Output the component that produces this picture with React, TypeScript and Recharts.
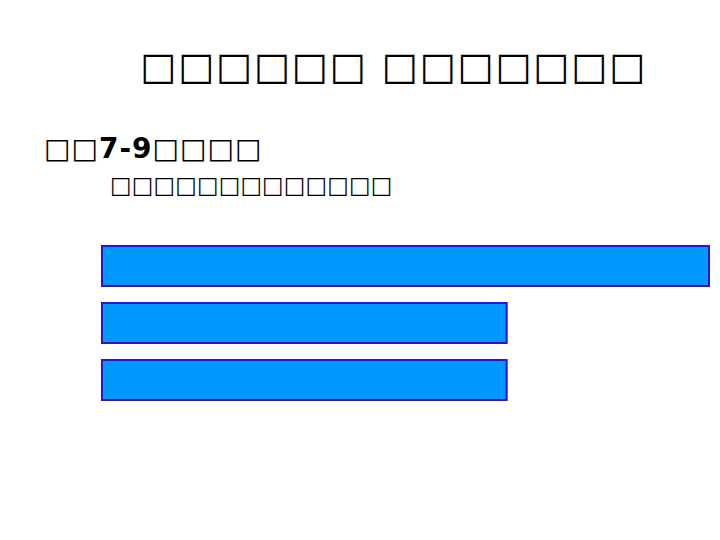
import { BarChart, Bar, XAxis, YAxis } from "recharts";

const categories = ["a", "b", "c"];
const values = [3, 2, 2];
const titleText = "□□□□□□ □□□□□□□";
const line2Before = "□□";
const line2Num = "7-9";
const line2After = "□□□□";
const line3Text = "□□□□□□□□□□□□□";

const data = categories.map((name, i) => ({ name, value: values[i] }));

export default function App() {
  return (
    <div style={{ position: "fixed", left: 0, top: 0, width: 720, height: 540, background: "#fff", fontFamily: "DejaVu Sans" }}>
      <div style={{ position: "absolute", left: 140, top: 44, fontSize: 38, letterSpacing: 2 }}>{titleText}</div>
      <div style={{ position: "absolute", left: 44, top: 132, fontSize: 28, letterSpacing: 1 }}>
        {line2Before}<b>{line2Num}</b>{line2After}
      </div>
      <div style={{ position: "absolute", left: 110, top: 172, fontSize: 23, letterSpacing: 0 }}>{line3Text}</div>
      <div style={{ position: "absolute", left: 0, top: 0 }}>
        <BarChart width={720} height={540} data={data} layout="vertical"
          margin={{ top: 237, bottom: 132, left: 102, right: 11 }}>
          <XAxis type="number" domain={[0, 3]} hide />
          <YAxis type="category" dataKey="name" hide />
          <Bar dataKey="value" fill="#0099ff" stroke="#3311cc" strokeWidth={2} barSize={40} isAnimationActive={false} />
        </BarChart>
      </div>
    </div>
  );
}
